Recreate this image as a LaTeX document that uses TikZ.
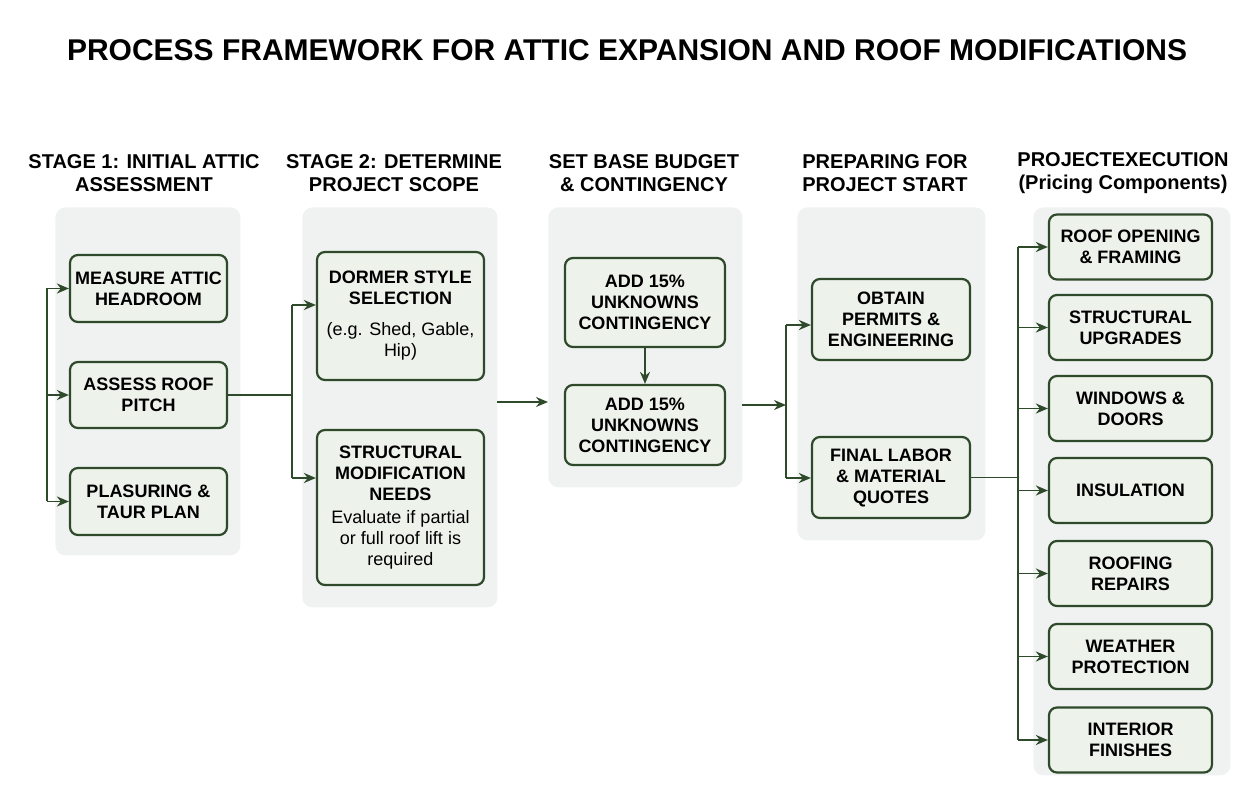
\documentclass[tikz,border=0pt]{standalone}
\usepackage{fontspec}
\setmainfont{Liberation Sans}
\usetikzlibrary{arrows.meta,positioning}
\definecolor{dkgreen}{HTML}{2F4A2A}
\definecolor{boxfill}{HTML}{EDF2EA}
\definecolor{panelfill}{HTML}{EFF2F1}
\tikzset{
  panel/.style={fill=panelfill,rounded corners=5pt,anchor=north west},
  task/.style={draw=dkgreen,line width=1.1pt,fill=boxfill,rounded corners=4pt,align=center,
    font=\bfseries\fontsize{9}{10.5}\selectfont,text=black,inner sep=2pt},
  head/.style={align=center,font=\bfseries\fontsize{10}{11.5}\selectfont},
  link/.style={dkgreen,line width=0.9pt,-{Stealth[length=6pt,width=5pt]}},
  bus/.style={dkgreen,line width=0.9pt}
}
\begin{document}
\begin{tikzpicture}[x=0.5pt,y=-0.5pt]
\useasboundingbox (0,0) rectangle (1254,812);
\node[font=\bfseries\fontsize{15}{17}\selectfont] (title) at (627,50) {PROCESS FRAMEWORK FOR ATTIC EXPANSION AND ROOF MODIFICATIONS};
% column headers
\node[head] (h1) at (144,173) {STAGE 1: INITIAL ATTIC\\ASSESSMENT};
\node[head] (h2) at (394,173) {STAGE 2: DETERMINE\\PROJECT SCOPE};
\node[head] (h3) at (644,173) {SET BASE BUDGET\\\& CONTINGENCY};
\node[head] (h4) at (885,173) {PREPARING FOR\\PROJECT START};
\node[head] (h5) at (1123,173) {PROJECTEXECUTION\\(Pricing Components)};
% panels
\node[panel,minimum width=92.5pt,minimum height=174pt] (p1) at (55,207) {};
\node[panel,minimum width=97.5pt,minimum height=200pt] (p2) at (302,207) {};
\node[panel,minimum width=97pt,minimum height=140pt] (p3) at (548,207) {};
\node[panel,minimum width=94pt,minimum height=166.5pt] (p4) at (797,207) {};
\node[panel,minimum width=98.5pt,minimum height=284pt] (p5) at (1033,207) {};
% stage 1
\node[task,minimum width=78.5pt,minimum height=33.5pt] (measure) at (148.5,288.5) {MEASURE ATTIC\\HEADROOM};
\node[task,minimum width=78.5pt,minimum height=33pt] (assess) at (148.5,395) {ASSESS ROOF\\PITCH};
\node[task,minimum width=78.5pt,minimum height=33.5pt] (plan) at (148.5,501.5) {PLASURING \&\\TAUR PLAN};
% stage 2
\node[task,minimum width=83.5pt,minimum height=64pt] (dormer) at (400.5,316) {DORMER STYLE\\SELECTION\\[5pt]{\mdseries (e.g. Shed, Gable,}\\{\mdseries Hip)}};
\node[task,minimum width=83.5pt,minimum height=77.5pt] (struct) at (400.5,507.5) {STRUCTURAL\\MODIFICATION\\NEEDS\\[1pt]{\mdseries Evaluate if partial}\\{\mdseries or full roof lift is}\\{\mdseries required}};
% budget
\node[task,minimum width=80pt,minimum height=44.5pt] (add1) at (645,302.5) {ADD 15\%\\UNKNOWNS\\CONTINGENCY};
\node[task,minimum width=80pt,minimum height=40pt] (add2) at (645,425) {ADD 15\%\\UNKNOWNS\\CONTINGENCY};
% preparing
\node[task,minimum width=79pt,minimum height=40.5pt] (permits) at (891,319.5) {OBTAIN\\PERMITS \&\\ENGINEERING};
\node[task,minimum width=79pt,minimum height=40.5pt] (quotes) at (891,477.5) {FINAL LABOR\\\& MATERIAL\\QUOTES};
% execution
\foreach \n/\y/\t in {c1/247/ROOF OPENING\\\& FRAMING, c2/327.5/STRUCTURAL\\UPGRADES, c3/408.5/WINDOWS \&\\DOORS,
  c4/490.5/INSULATION, c5/573.5/ROOFING\\REPAIRS, c6/656.5/WEATHER\\PROTECTION, c7/740/INTERIOR\\FINISHES}
  \node[task,minimum width=81.5pt,minimum height=32.5pt] (\n) at (1130.5,\y) {\t};
% connectors
\coordinate (b1t) at (47,288.5); \coordinate (b1b) at (47,501.5);
\draw[bus] (b1t) -- (b1b);
\coordinate (b2t) at (292,305); \coordinate (b2b) at (292,478);
\draw[bus] (b2t) -- (b2b);
\coordinate (b4t) at (786,325); \coordinate (b4b) at (786,478);
\draw[bus] (b4t) -- (b4b);
\coordinate (b5t) at (1018,247); \coordinate (b5b) at (1018,740);
\draw[bus] (b5t) -- (b5b);
\path[link]
  (b1t) edge (measure) (47,395) edge (assess) (b1b) edge (plan)
  (assess) edge[-] (292,395)
  (b2t) edge (b2t -| dormer.west) (b2b) edge (b2b -| struct.west)
  (497,402) edge (548,402)
  (add1) edge (add2)
  (742,405) edge (786,405)
  (b4t) edge (b4t -| permits.west) (b4b) edge (b4b -| quotes.west)
  (quotes) edge[-] (1018,477.5);
\foreach \n in {c1,c2,c3,c4,c5,c6,c7}
  \draw[link] (\n -| b5t) -- (\n);
\end{tikzpicture}
\end{document}
